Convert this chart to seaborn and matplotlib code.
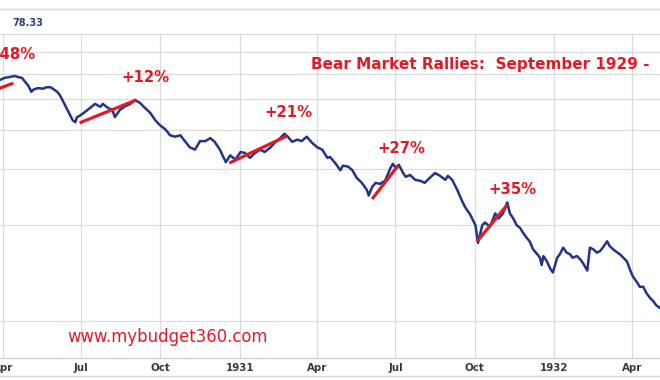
import matplotlib
matplotlib.use("Agg")
import matplotlib.pyplot as plt
from matplotlib.lines import Line2D
from matplotlib.ticker import FixedLocator, NullLocator, NullFormatter
import seaborn as sns
import pandas as pd

# ---------------- data ----------------
dates = [
    "1930-03-26", "1930-04-03", "1930-04-09", "1930-04-15", "1930-04-18", "1930-04-23",
    "1930-04-27", "1930-04-30", "1930-05-04", "1930-05-06", "1930-05-11", "1930-05-14",
    "1930-05-17", "1930-05-22", "1930-05-26", "1930-05-29", "1930-06-03", "1930-06-06",
    "1930-06-09", "1930-06-13", "1930-06-18", "1930-06-21", "1930-06-24", "1930-06-26",
    "1930-06-29", "1930-07-05", "1930-07-11", "1930-07-17", "1930-07-23", "1930-07-26",
    "1930-08-01", "1930-08-06", "1930-08-09", "1930-08-15", "1930-08-21", "1930-08-27",
    "1930-09-01", "1930-09-07", "1930-09-13", "1930-09-19", "1930-09-25", "1930-09-30",
    "1930-10-06", "1930-10-09", "1930-10-12", "1930-10-18", "1930-10-24", "1930-10-30",
    "1930-11-04", "1930-11-10", "1930-11-16", "1930-11-22", "1930-11-28", "1930-12-03",
    "1930-12-09", "1930-12-13", "1930-12-16", "1930-12-21", "1930-12-27", "1931-01-02",
    "1931-01-07", "1931-01-13", "1931-01-19", "1931-01-25", "1931-01-30", "1931-02-05",
    "1931-02-11", "1931-02-17", "1931-02-22", "1931-02-26", "1931-03-03", "1931-03-09",
    "1931-03-14", "1931-03-20", "1931-03-26", "1931-04-01", "1931-04-07", "1931-04-13",
    "1931-04-16", "1931-04-22", "1931-04-28", "1931-05-01", "1931-05-07", "1931-05-12",
    "1931-05-17", "1931-05-23", "1931-05-29", "1931-05-31", "1931-06-04", "1931-06-08",
    "1931-06-13", "1931-06-19", "1931-06-25", "1931-06-28", "1931-07-02", "1931-07-05",
    "1931-07-10", "1931-07-13", "1931-07-18", "1931-07-24", "1931-07-30", "1931-08-04",
    "1931-08-10", "1931-08-16", "1931-08-22", "1931-08-28", "1931-08-31", "1931-09-05",
    "1931-09-11", "1931-09-16", "1931-09-20", "1931-09-26", "1931-10-02", "1931-10-05",
    "1931-10-10", "1931-10-13", "1931-10-19", "1931-10-25", "1931-10-29", "1931-11-03",
    "1931-11-08", "1931-11-11", "1931-11-15", "1931-11-19", "1931-11-23", "1931-11-26",
    "1931-12-01", "1931-12-04", "1931-12-08", "1931-12-13", "1931-12-16", "1931-12-18",
    "1931-12-20", "1931-12-24", "1931-12-28", "1931-12-31", "1932-01-05", "1932-01-08",
    "1932-01-12", "1932-01-16", "1932-01-20", "1932-01-23", "1932-01-28", "1932-02-01",
    "1932-02-04", "1932-02-09", "1932-02-12", "1932-02-16", "1932-02-20", "1932-02-24",
    "1932-02-27", "1932-03-03", "1932-03-06", "1932-03-10", "1932-03-15", "1932-03-18",
    "1932-03-22", "1932-03-26", "1932-03-30", "1932-04-02", "1932-04-07", "1932-04-10",
    "1932-04-14", "1932-04-18", "1932-04-22", "1932-04-25", "1932-04-29", "1932-05-03",
    "1932-05-07",
]
dow = [
    285, 291, 293, 295, 293, 291,
    282, 276, 263, 267, 270, 270,
    269, 272, 272, 269, 263, 257,
    248, 236, 222, 214, 211, 219,
    221, 227, 234, 241, 236, 241,
    234, 231, 219, 231, 237, 241,
    248, 243, 234, 226, 214, 207,
    201, 197, 192, 190, 192, 183,
    176, 173, 184, 184, 188, 183,
    173, 164, 158, 166, 161, 170,
    169, 163, 169, 173, 170, 175,
    182, 188, 194, 190, 183, 186,
    184, 190, 182, 176, 173, 163,
    164, 157, 149, 154, 153, 149,
    141, 136, 129, 124, 132, 136,
    135, 138, 151, 156, 151, 155,
    146, 142, 144, 139, 138, 136,
    141, 146, 143, 139, 143, 139,
    129, 120, 114, 108, 100, 88,
    100, 102, 99, 109, 105, 109,
    118, 109, 105, 100, 98, 95,
    91, 89, 84, 81, 79, 75,
    80, 77, 73, 71, 79, 81,
    85, 82, 81, 79, 80, 78,
    76, 72, 85, 84, 82, 83,
    85, 89, 86, 84, 82, 81,
    79, 77, 72, 69, 66, 64,
    64, 61, 59, 58, 56, 55,
    54,
]

tick_dates = ["1930-04-01", "1930-07-01", "1930-10-01", "1931-01-01", "1931-04-01",
              "1931-07-01", "1931-10-01", "1932-01-01", "1932-04-01"]
tick_labels = ["Apr", "Jul", "Oct", "1931", "Apr", "Jul", "Oct", "1932", "Apr"]
grid_values = [50, 100, 150, 200, 250, 300, 350, 400]

rally_labels = ["+48%", "+12%", "+21%", "+27%", "+35%"]
rally_start_dates = ["1930-03-28", "1930-06-29", "1930-12-20", "1931-06-04", "1931-10-04"]
rally_start_values = [270, 210, 157, 121, 89]
rally_end_dates = ["1930-04-13", "1930-09-03", "1931-02-25", "1931-07-04", "1931-11-08"]
rally_end_values = [280, 248, 191, 154, 116]
label_dates = ["1930-03-14", "1930-08-16", "1931-01-30", "1931-06-10", "1931-10-17"]
label_values = [346, 291, 226, 175, 130]

title_text = "Bear Market Rallies:  September 1929 - "
site_text = "www.mybudget360.com"
last_value_text = "78.33"

# ---------------- style ----------------
sns.set_style("white")
plt.rcParams["font.family"] = ["DejaVu Sans"]

W, H = 660, 380
fig = plt.figure(figsize=(W / 100, H / 100), dpi=100)
fig.patch.set_facecolor("white")
ax = fig.add_axes([0, (H - 358) / H, 1, (358 - 34) / H])

RED = "#e01a26"
NAVY = "#22338a"

df = pd.DataFrame({"date": pd.to_datetime(dates), "dow": dow})
sns.lineplot(data=df, x="date", y="dow", ax=ax, color=NAVY, lw=1.8, zorder=2)

ax.set_yscale("log")
ax.set_ylim(38.2, 400)
ax.set_xlim(pd.Timestamp("1930-04-01") - pd.Timedelta(days=3.5),
            pd.Timestamp("1932-04-01") + pd.Timedelta(days=32.5))

ax.yaxis.set_major_locator(FixedLocator(grid_values))
ax.yaxis.set_minor_locator(NullLocator())
ax.yaxis.set_major_formatter(NullFormatter())
ax.yaxis.set_minor_formatter(NullFormatter())
ax.set_xticks(pd.to_datetime(tick_dates))
ax.set_xticklabels(tick_labels)
ax.xaxis.set_minor_locator(NullLocator())
ax.grid(True, which="major", color="#dadada", lw=0.8, zorder=0)
ax.tick_params(axis="both", length=0, pad=3.5)
ax.tick_params(axis="x", labelsize=7.4, labelcolor="#3a3a3a")
for lab in ax.get_xticklabels():
    lab.set_fontweight("bold")
ax.set_xlabel("")
ax.set_ylabel("")
for s in ["top", "left", "right"]:
    ax.spines[s].set_visible(False)
ax.spines["bottom"].set_color("#cfcfcf")
ax.spines["bottom"].set_linewidth(1.0)

# rally lines and labels
for i in range(len(rally_labels)):
    ax.plot(pd.to_datetime([rally_start_dates[i], rally_end_dates[i]]),
            [rally_start_values[i], rally_end_values[i]],
            color=RED, lw=2.3, solid_capstyle="butt", zorder=3)
    ax.text(pd.Timestamp(label_dates[i]), label_values[i], rally_labels[i],
            color=RED, fontsize=10.7, fontweight="bold", ha="left", va="center",
            zorder=4, clip_on=False)

fig.text(311 / W, 1 - 65 / H, title_text, color=RED, fontsize=11, fontweight="bold",
         ha="left", va="center")
fig.text(67 / W, 1 - 337 / H, site_text, color=RED, fontsize=11.9,
         ha="left", va="center")
fig.text(12 / W, 1 - 23 / H, last_value_text, color="#2f4070", fontsize=7,
         fontweight="bold", ha="left", va="center")

for yy in (9, 376):
    fig.add_artist(Line2D([0, 1], [1 - yy / H, 1 - yy / H], transform=fig.transFigure,
                          color="#d6d6d6", lw=1.0))

fig.savefig("out.png", dpi=100)
